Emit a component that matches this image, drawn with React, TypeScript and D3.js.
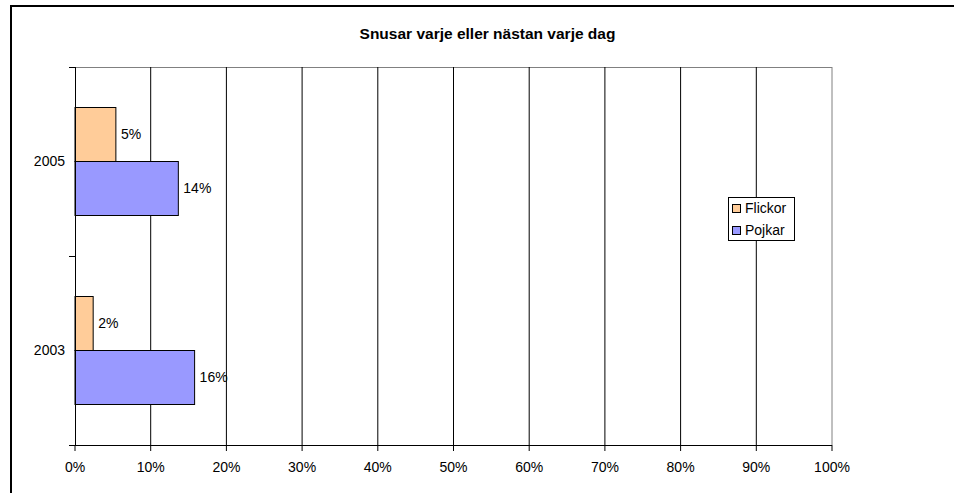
import React from "react";
import * as d3 from "d3";

const categories = ["2005", "2003"];
const seriesNames = ["Flickor", "Pojkar"];
const flickor = [5.4, 2.4];
const pojkar = [13.65, 15.8];
const seriesColors = ["#FFCC99", "#9999FF"];
const xTicks = [0, 10, 20, 30, 40, 50, 60, 70, 80, 90, 100];
const title = "Snusar varje eller nästan varje dag";

const W = 954;
const H = 493;
const plot = { left: 75, right: 832, top: 67, bottom: 445 };
const font = "Arial, 'Liberation Sans', sans-serif";

export default function App() {
  const x = d3.scaleLinear().domain([0, 100]).range([plot.left, plot.right]);
  const y = d3
    .scaleBand<string>()
    .domain(categories)
    .range([plot.top, plot.bottom])
    .paddingInner(0)
    .paddingOuter(0);
  const band = y.bandwidth();
  const barH = band / 3.5;
  const series = [flickor, pojkar];

  return (
    <svg
      width={W}
      height={H}
      style={{ position: "absolute", left: 0, top: 0, background: "#fff" }}
      fontFamily={font}
    >
      <rect x={0} y={0} width={W} height={H} fill="#fff" />
      <rect x={11} y={6} width={W + 20} height={H + 20} fill="none" stroke="#000" strokeWidth={2} />
      <text x={487.5} y={39} textAnchor="middle" fontSize={15.5} fontWeight="bold" fill="#000">
        {title}
      </text>
      {/* plot frame */}
      <line x1={plot.left} x2={plot.right} y1={plot.top + 0.5} y2={plot.top + 0.5} stroke="#808080" />
      {/* gridlines */}
      {xTicks.slice(1).map((t) => (
        <line
          key={"g" + t}
          x1={x(t)}
          x2={x(t)}
          y1={plot.top}
          y2={plot.bottom}
          stroke={t === 100 ? "#808080" : "#000"}
          strokeWidth={1}
        />
      ))}
      {/* bars */}
      {categories.map((c, ci) =>
        series.map((s, si) => {
          const y0 = (y(c) as number) + band * (0.75 / 3.5) + si * barH;
          return (
            <g key={c + si}>
              <rect
                x={x(0)}
                y={y0}
                width={x(s[ci]) - x(0)}
                height={barH}
                fill={seriesColors[si]}
                stroke="#000"
                strokeWidth={1}
              />
              <text
                x={x(s[ci]) + 5}
                y={y0 + barH / 2}
                dy="0.35em"
                fontSize={14}
                fill="#000"
              >
                {Math.round(s[ci]) + "%"}
              </text>
            </g>
          );
        })
      )}
      {/* axes */}
      <line x1={plot.left + 0.5} x2={plot.left + 0.5} y1={plot.top} y2={plot.bottom} stroke="#000" />
      <line x1={plot.left} x2={plot.right} y1={plot.bottom + 0.5} y2={plot.bottom + 0.5} stroke="#000" />
      {[plot.top, plot.top + band, plot.bottom].map((v, i) => (
        <line key={"yt" + i} x1={plot.left - 6} x2={plot.left} y1={v + 0.5} y2={v + 0.5} stroke="#000" />
      ))}
      {categories.map((c) => (
        <text
          key={"yl" + c}
          x={65}
          y={(y(c) as number) + band / 2}
          dy="0.35em"
          textAnchor="end"
          fontSize={14}
          fill="#000"
        >
          {c}
        </text>
      ))}
      {xTicks.map((t) => (
        <g key={"xt" + t}>
          <line x1={x(t)} x2={x(t)} y1={plot.bottom} y2={plot.bottom + 6} stroke="#000" />
          <text x={x(t)} y={467} dy="0.35em" textAnchor="middle" fontSize={14} fill="#000">
            {t + "%"}
          </text>
        </g>
      ))}
      {/* legend */}
      <rect x={728.5} y={197.5} width={66} height={43} fill="#fff" stroke="#000" />
      {seriesNames.map((n, i) => (
        <g key={"lg" + n}>
          <rect
            x={732.5}
            y={204.5 + i * 22}
            width={8}
            height={8}
            fill={seriesColors[i]}
            stroke="#000"
          />
          <text x={745} y={208.5 + i * 22} dy="0.35em" fontSize={14} fill="#000">
            {n}
          </text>
        </g>
      ))}
    </svg>
  );
}
